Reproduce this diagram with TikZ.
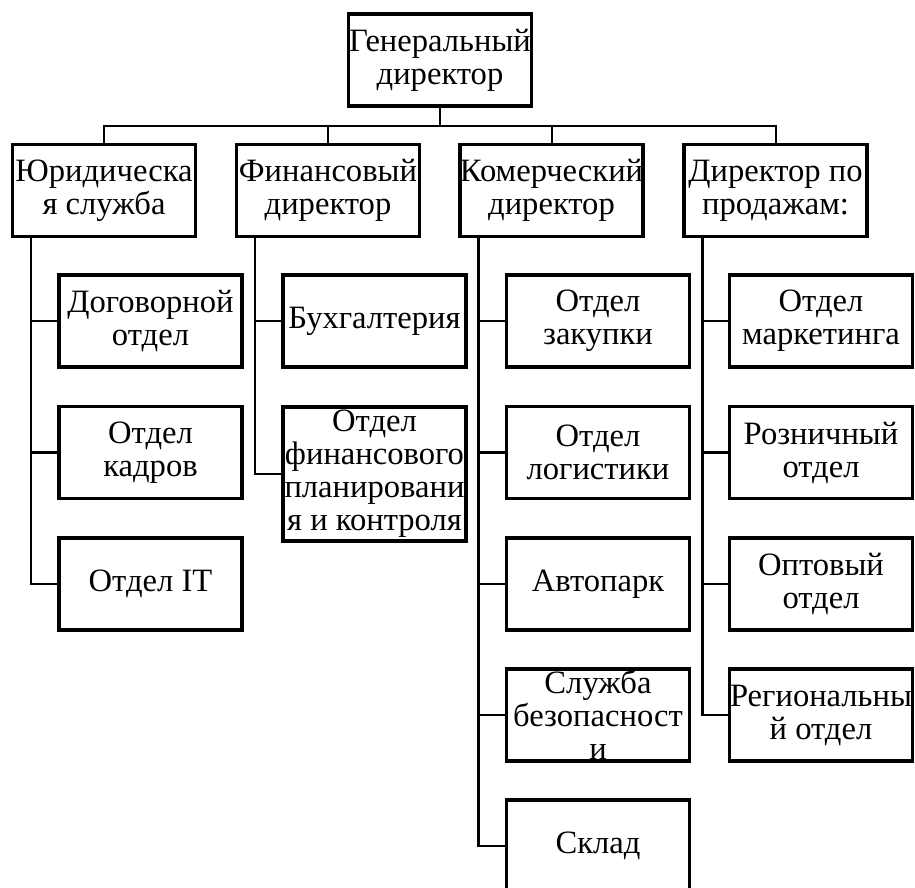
\documentclass[tikz,border=0pt]{standalone}
\usepackage{fontspec}
\setmainfont{Liberation Serif}
\usetikzlibrary{calc}

\tikzset{
  unit/.style={draw, line width=1.6pt, align=center, inner xsep=-2pt, inner ysep=0pt,
    minimum width=91.5pt, minimum height=46pt, font=\fontsize{16.3}{16.5}\selectfont},
  link/.style={line width=1.2pt},
}

\begin{document}
\begin{tikzpicture}[x=0.5pt,y=-0.5pt]
\useasboundingbox (0,0) rectangle (915,888);
\node[unit] (gen) at (440,60) {Генеральный\\директор};
\node[unit] (jur) at (104,190.5) {Юридическа\\я служба};
\node[unit] (fin) at (328,190.5) {Финансовый\\директор};
\node[unit] (kom) at (551.5,190.5) {Комерческий\\директор};
\node[unit] (prod) at (775.5,190.5) {Директор по\\продажам:};

% jur
\node[unit] (dog) at (150.5,321) {Договорной\\отдел};
\node[unit] (kadr) at (150.5,452.5) {Отдел\\кадров};
\node[unit] (it) at (150.5,584) {Отдел IT};
% fin
\node[unit] (buh) at (374.5,321) {Бухгалтерия};
\node[unit, minimum height=67pt] (plan) at (374.5,474) {Отдел\\финансового\\планировани\\я и контроля};
% kom
\node[unit] (zak) at (598,321) {Отдел\\закупки};
\node[unit] (logi) at (598,452.5) {Отдел\\логистики};
\node[unit] (avto) at (598,584) {Автопарк};
\node[unit, inner ysep=-1.5pt] (bez) at (598,715) {Служба\\безопасност\\и};
\node[unit] (sklad) at (598,846) {Склад};
% prod
\node[unit] (mark) at (821,321) {Отдел\\маркетинга};
\node[unit] (rozn) at (821,452.5) {Розничный\\отдел};
\node[unit] (opt) at (821,584) {Оптовый\\отдел};
\node[unit] (reg) at (821,715) {Региональны\\й отдел};

\draw[link, line width=1pt] (gen.south) -- ++(0,-9pt) coordinate (bus);
\foreach \d in {jur,fin,kom,prod}
  \draw[link, line width=1pt] (bus) -| (\d.north);

\foreach \p/\c in {jur/dog,jur/kadr,jur/it,fin/buh,fin/plan,
  kom/zak,kom/logi,kom/avto,kom/bez,kom/sklad,
  prod/mark,prod/rozn,prod/opt,prod/reg}
  \draw[link] ($(\p.south west)+(10pt,0)$) |- (\c.west);
\end{tikzpicture}
\end{document}
